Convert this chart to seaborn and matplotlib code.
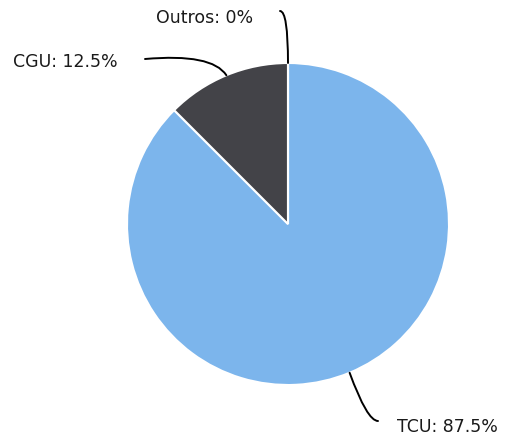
import numpy as np
import seaborn as sns
import matplotlib.pyplot as plt

# data
categories = ['TCU', 'CGU', 'Outros']
shares = [87.5, 12.5, 0.0]
colors = ['#7cb5ec', '#434348', '#90ed7d']

sns.set_theme(style='white')
plt.rcParams['font.family'] = ['DejaVu Sans']

W, H = 507, 439
fig = plt.figure(figsize=(W / 100, H / 100), dpi=100)
ax = fig.add_axes([0, 0, 1, 1])

cx, cy, r = 288, H - 225, 161
ax.pie(shares, colors=colors, startangle=90, counterclock=False,
       center=(cx, cy), radius=r, frame=True,
       wedgeprops=dict(edgecolor='white', linewidth=1.5))
ax.set_xlim(0, W)
ax.set_ylim(0, H)
ax.set_aspect('equal')
ax.axis('off')

# label placement: text anchor, connector end, connector angles
label_pos = {
    'TCU': dict(text=(397, H - 427), end=(378, H - 422), angles=(0, 110)),
    'CGU': dict(text=(13, H - 62), end=(145, H - 60), angles=(5, -57)),
    'Outros': dict(text=(156, H - 18), end=(280, H - 12), angles=(0, 90)),
}

start = 90.0
for cat, val in zip(categories, shares):
    span = val / 100 * 360
    mid = np.deg2rad(start - span / 2)
    start -= span
    px, py = cx + r * np.cos(mid), cy + r * np.sin(mid)
    p = label_pos[cat]
    ax.text(p['text'][0], p['text'][1], f'{cat}: {val:g}%', ha='left',
            va='center', fontsize=12.5, color='#1a1a1a')
    a, b = p['angles']
    ax.annotate('', xy=(px, py), xytext=p['end'],
                arrowprops=dict(arrowstyle='-', color='black', lw=1.4,
                                shrinkA=0, shrinkB=0,
                                connectionstyle=f'angle3,angleA={a},angleB={b}'))

fig.savefig('out.png', dpi=100)
